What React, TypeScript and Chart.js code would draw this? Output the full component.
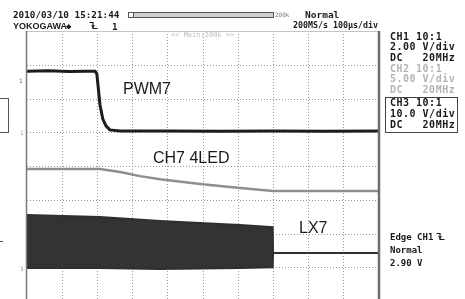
import React, { useEffect, useRef } from "react";
import { Chart, registerables } from "chart.js";

Chart.register(...registerables);

// Horizontal axis: time in µs (100 µs/div, 10 divisions).
// Vertical axis: screen divisions counted from the bottom edge of the graticule (8 divisions).
const timeDivisions = [100, 200, 300, 400, 500, 600, 700, 800, 900];
const levelDivisions = [1, 2, 3, 4, 5, 6, 7];

// CH1 – PWM7
const pwmTime = [0, 60, 120, 170, 194, 199, 208, 216, 225, 236, 265, 400, 550, 700, 850, 1000];
const pwmLevel = [6.81, 6.82, 6.8, 6.81, 6.81, 6.73, 5.81, 5.39, 5.19, 5.07, 5.04, 5.04, 5.03, 5.04, 5.03, 5.04];

// CH2 – CH7 4LED
const ledTime = [0, 208, 265, 322, 379, 493, 607, 701, 1000];
const ledLevel = [3.91, 3.91, 3.82, 3.7, 3.61, 3.47, 3.35, 3.26, 3.26];

// CH3 – LX7 (switching node: upper / lower envelope of the burst, then idle level)
const lxTime = [0, 208, 293, 379, 493, 607, 700, 701, 1000];
const lxHigh = [2.55, 2.49, 2.43, 2.37, 2.31, 2.25, 2.19, 1.42, 1.42];
const lxLow = [0.98, 0.98, 0.96, 0.95, 0.96, 0.98, 1.0, 1.42, 1.42];

const pts = (t: number[], v: number[]) => t.map((x, i) => ({ x, y: v[i] }));

const scopeGrid = {
  id: "scopeGrid",
  beforeDatasetsDraw(chart: any) {
    const { ctx, chartArea: a, scales } = chart;
    const xs = scales.x;
    const ys = scales.y;
    ctx.save();
    ctx.strokeStyle = "#9a9a9a";
    ctx.lineWidth = 1;
    ctx.setLineDash([1, 2]);
    timeDivisions.forEach((t) => {
      const x = Math.round(xs.getPixelForValue(t)) + 0.5;
      ctx.beginPath();
      ctx.moveTo(x, a.top);
      ctx.lineTo(x, a.bottom);
      ctx.stroke();
    });
    levelDivisions.forEach((l) => {
      const y = Math.round(ys.getPixelForValue(l)) + 0.5;
      ctx.beginPath();
      ctx.moveTo(a.left, y);
      ctx.lineTo(a.right, y);
      ctx.stroke();
    });
    ctx.setLineDash([]);
    ctx.strokeStyle = "#c4c4c4";
    ctx.beginPath();
    ctx.moveTo(a.left, a.top + 0.5);
    ctx.lineTo(a.right, a.top + 0.5);
    ctx.stroke();
    ctx.restore();
  },
  afterDatasetsDraw(chart: any) {
    const { ctx, chartArea: a } = chart;
    ctx.save();
    ctx.strokeStyle = "#7a7a7a";
    ctx.lineWidth = 1.5;
    ctx.beginPath();
    ctx.moveTo(a.left - 0.5, a.top);
    ctx.lineTo(a.left - 0.5, a.bottom);
    ctx.stroke();
    ctx.strokeStyle = "#6e6e6e";
    ctx.lineWidth = 2.5;
    ctx.beginPath();
    ctx.moveTo(a.right + 1, a.top);
    ctx.lineTo(a.right + 1, a.bottom);
    ctx.stroke();
    ctx.restore();
  },
};

const mono = "'DejaVu Sans Mono', monospace";
const sans = "'Liberation Sans', Arial, sans-serif";

const T = (p: { x: number; y: number; s: number; c?: string; b?: boolean; f?: string; ls?: number; children: any }) => (
  <div
    style={{
      position: "absolute",
      left: p.x,
      top: p.y,
      fontSize: p.s,
      lineHeight: `${p.s}px`,
      color: p.c || "#1a1a1a",
      fontWeight: p.b ? "bold" : "normal",
      fontFamily: p.f || mono,
      letterSpacing: p.ls || 0,
      whiteSpace: "pre",
    }}
  >
    {p.children}
  </div>
);

const TrigIcon = ({ x, y }: { x: number; y: number }) => (
  <svg style={{ position: "absolute", left: x, top: y }} width="9" height="9" viewBox="0 0 9 9">
    <path d="M0.5 1.5 H4 V7.5 H8.5" fill="none" stroke="#1a1a1a" strokeWidth="1.2" />
    <path d="M2.5 4 L4 6.5 L5.5 4" fill="none" stroke="#1a1a1a" strokeWidth="1" />
  </svg>
);

export default function App() {
  const ref = useRef<HTMLCanvasElement>(null);

  useEffect(() => {
    if (!ref.current) return;
    const chart = new Chart(ref.current, {
      type: "line",
      data: {
        datasets: [
          {
            label: "PWM7",
            data: pts(pwmTime, pwmLevel),
            borderColor: "#1c1c1c",
            borderWidth: 3,
            pointRadius: 0,
            tension: 0,
            fill: false,
          },
          {
            label: "CH7 4LED",
            data: pts(ledTime, ledLevel),
            borderColor: "#8e8e8e",
            borderWidth: 2.5,
            pointRadius: 0,
            tension: 0,
            fill: false,
          },
          {
            label: "LX7 high",
            data: pts(lxTime, lxHigh),
            borderColor: "#2f2f2f",
            borderWidth: 2,
            pointRadius: 0,
            tension: 0,
            fill: false,
          },
          {
            label: "LX7 low",
            data: pts(lxTime, lxLow),
            borderColor: "#2f2f2f",
            borderWidth: 2,
            pointRadius: 0,
            tension: 0,
            fill: "-1",
            backgroundColor: "#333333",
          },
        ],
      },
      options: {
        responsive: false,
        animation: false,
        events: [],
        layout: { padding: { left: 27, top: 31, right: 87, bottom: 0 } },
        plugins: { legend: { display: false }, tooltip: { enabled: false } },
        scales: {
          x: { type: "linear", min: 0, max: 1000, display: false },
          y: { type: "linear", min: 0.06, max: 8, display: false },
        },
      },
      plugins: [scopeGrid],
    });
    return () => chart.destroy();
  }, []);

  return (
    <div style={{ position: "fixed", left: 0, top: 0, width: 465, height: 299, background: "#fff", overflow: "hidden" }}>
      <canvas ref={ref} width={465} height={299} style={{ position: "absolute", left: 0, top: 0 }} />

      {/* header */}
      <T x={13} y={9.5} s={9.3} b>2010/03/10 15:21:44</T>
      <T x={13} y={21.5} s={9} b f={sans}>YOKOGAWA</T>
      <T x={66} y={21.5} s={9} b>◆</T>
      <TrigIcon x={89} y={21} />
      <T x={112} y={21.5} s={9.3} b>1</T>
      <div style={{ position: "absolute", left: 128, top: 12, width: 144, height: 4, border: "1px solid #555", background: "#d0d0d0" }} />
      <div style={{ position: "absolute", left: 128, top: 12, width: 4, height: 4, border: "1px solid #555", background: "#fff" }} />
      <T x={275} y={11.5} s={6} c="#777">200k</T>
      <T x={305} y={9.5} s={9.5} b>Normal</T>
      <T x={293} y={21} s={8.3} b>200MS/s 100µs/div</T>
      <T x={171} y={31.5} s={7} c="#bcbcbc">{"<< Main:200k >>"}</T>

      {/* right panel */}
      <T x={390} y={32} s={10} ls={0.5} b>CH1 10:1</T>
      <T x={390} y={42.3} s={10} ls={0.5} b>2.00 V/div</T>
      <T x={390} y={52.6} s={10} ls={0.5} b>DC   20MHz</T>
      <T x={390} y={63.5} s={10} ls={0.5} b c="#b4b4b4">CH2 10:1</T>
      <T x={390} y={74} s={10} ls={0.5} b c="#b4b4b4">5.00 V/div</T>
      <T x={390} y={84.5} s={10} ls={0.5} b c="#b4b4b4">DC   20MHz</T>
      <div style={{ position: "absolute", left: 385, top: 97, width: 71, height: 34, border: "1px solid #444" }} />
      <T x={390} y={98.3} s={10} ls={0.5} b>CH3 10:1</T>
      <T x={390} y={109} s={10} ls={0.5} b>10.0 V/div</T>
      <T x={390} y={119.5} s={10} ls={0.5} b>DC   20MHz</T>

      <T x={390} y={232.5} s={9} b>Edge CH1</T>
      <TrigIcon x={436} y={232} />
      <T x={390} y={245.5} s={9} b>Normal</T>
      <T x={390} y={258.5} s={9} b>2.90 V</T>

      {/* trace labels */}
      <T x={123} y={81} s={16} f={sans}>PWM7</T>
      <T x={153} y={150} s={16} f={sans}>CH7 4LED</T>
      <T x={299} y={220} s={16} f={sans}>LX7</T>

      {/* channel markers and left-edge remnants */}
      <T x={19} y={78} s={6} c="#666">1</T>
      <T x={20} y={130} s={6} c="#999">1</T>
      <T x={20} y={266} s={6} c="#999">3</T>
      <div style={{ position: "absolute", left: -1, top: 98, width: 8, height: 33, border: "1px solid #555" }} />
      <div style={{ position: "absolute", left: 0, top: 241, width: 3, height: 1, background: "#555" }} />
    </div>
  );
}
